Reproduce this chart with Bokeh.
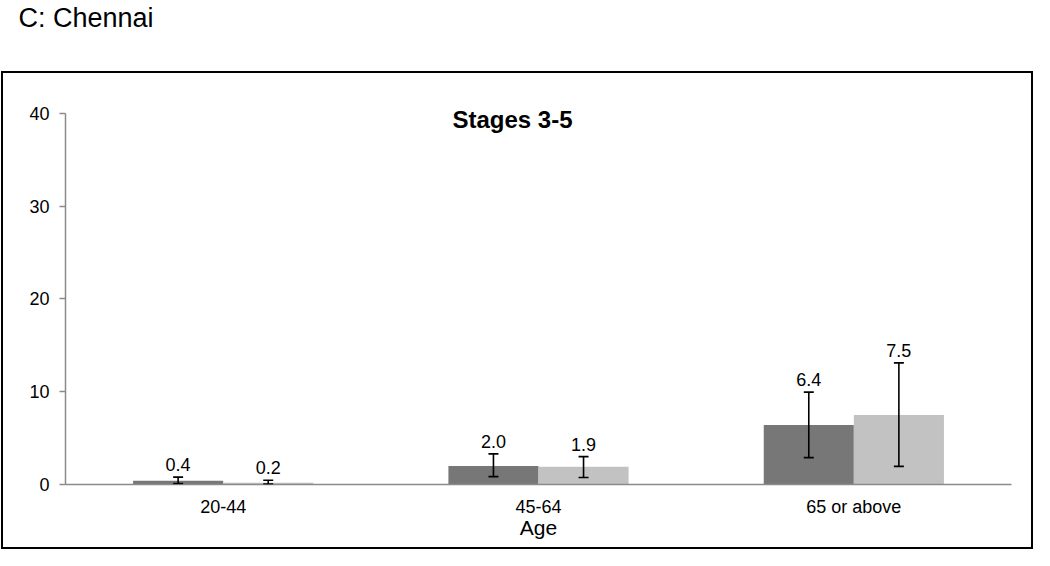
from bokeh.plotting import figure
from bokeh.models import (ColumnDataSource, FactorRange, Range1d, Whisker, TeeHead,
                          LabelSet, Label, FixedTicker, Title)
from bokeh.transform import dodge
from bokeh.core.properties import value
from bokeh.embed import file_html
from bokeh.resources import INLINE

# ---- data ----
categories = ["20-44", "45-64", "65 or above"]
series_a = [0.4, 2.0, 6.4]          # darker bars
series_b = [0.2, 1.9, 7.5]          # lighter bars
a_lower = [0.1, 0.85, 2.9]
a_upper = [0.8, 3.3, 9.95]
b_lower = [0.05, 0.75, 1.95]
b_upper = [0.45, 3.0, 13.1]
y_ticks = [0, 10, 20, 30, 40]
panel_title = "C: Chennai"
chart_title = "Stages 3-5"
x_label = "Age"

FONT = "Liberation Sans"
DARK = "#777777"
LIGHT = "#c2c2c2"
AXIS = "#8a8a8a"

W, H = 1034, 550
ML, MR, MT, MB = 65, 23, 97, 66

p = figure(width=W, height=H, x_range=FactorRange(*categories, range_padding=0),
           y_range=Range1d(0, 41.7), output_backend="svg", toolbar_location=None,
           min_border_left=ML, min_border_right=MR, min_border_top=MT, min_border_bottom=MB,
           title=panel_title)
p.outline_line_color = None
p.background_fill_color = None
p.border_fill_color = None
p.xgrid.visible = False
p.ygrid.visible = False

# panel title (outermost, at the top edge)
p.title.text_font = FONT
p.title.text_font_size = "27px"
p.title.text_font_style = "normal"
p.title.text_color = "black"
p.title.align = "left"
p.title.offset = 18 - ML
p.title.standoff = 0

# spacer between the panel title and the plot frame
p.add_layout(Title(text=" ", text_font=FONT, text_font_size="27px", standoff=33), "above")

# outer frame box drawn behind the (transparent) canvas
g = "linear-gradient(#000,#000)"
p.styles = {
    "background-image": ", ".join([g] * 4),
    "background-position": "1px 71px, 1px 71px, 1031px 71px, 1px 547px",
    "background-size": "2px 478px, 1032px 2px, 2px 478px, 1032px 2px",
    "background-repeat": "no-repeat",
}

src_a = ColumnDataSource(dict(x=categories, top=series_a, lo=a_lower, hi=a_upper,
                              txt=[f"{v:.1f}" for v in series_a]))
src_b = ColumnDataSource(dict(x=categories, top=series_b, lo=b_lower, hi=b_upper,
                              txt=[f"{v:.1f}" for v in series_b]))

BW = 0.2857
off = BW / 2
p.vbar(x=dodge("x", -off, range=p.x_range), top="top", width=BW, source=src_a,
       fill_color=DARK, line_color=None)
p.vbar(x=dodge("x", off, range=p.x_range), top="top", width=BW, source=src_b,
       fill_color=LIGHT, line_color=None)

for src, d in ((src_a, -off), (src_b, off)):
    w = Whisker(base=dodge("x", d, range=p.x_range), lower="lo", upper="hi", source=src,
                level="annotation", line_color="black", line_width=1.6,
                upper_head=TeeHead(size=10, line_color="black", line_width=1.6),
                lower_head=TeeHead(size=10, line_color="black", line_width=1.6))
    p.add_layout(w)
    lbl = LabelSet(x=dodge("x", d, range=p.x_range), y="hi", text="txt", source=src,
                   y_offset=6, text_align="center", text_baseline="bottom",
                   text_font=value(FONT), text_font_size="18px", text_color="black")
    p.add_layout(lbl)

# axes
p.yaxis.ticker = FixedTicker(ticks=y_ticks)
p.yaxis.bounds = (0, 40)
p.yaxis.axis_line_color = AXIS
p.yaxis.axis_line_width = 1.5
p.yaxis.major_tick_line_color = AXIS
p.yaxis.major_tick_line_width = 1.5
p.yaxis.major_tick_out = 6
p.yaxis.major_tick_in = 0
p.yaxis.minor_tick_line_color = None
p.yaxis.major_label_standoff = 10
p.yaxis.major_label_text_font = FONT
p.yaxis.major_label_text_font_size = "18px"
p.yaxis.major_label_text_color = "black"

p.xaxis.axis_line_color = AXIS
p.xaxis.axis_line_width = 1.5
p.xaxis.major_tick_line_color = None
p.xaxis.minor_tick_line_color = None
p.xaxis.major_label_standoff = 6
p.xaxis.major_label_text_font = FONT
p.xaxis.major_label_text_font_size = "18px"
p.xaxis.major_label_text_color = "black"
p.xaxis.axis_label = x_label
p.xaxis.axis_label_text_font = FONT
p.xaxis.axis_label_text_font_size = "21px"
p.xaxis.axis_label_text_font_style = "normal"
p.xaxis.axis_label_text_color = "black"
p.xaxis.axis_label_standoff = -4

p.add_layout(Label(x=512 - ML, y=(H - MB) - 119, x_units="screen", y_units="screen",
                   text=chart_title, text_font=FONT, text_font_size="24px", text_font_style="bold",
                   text_color="black", text_baseline="alphabetic", text_align="center"))

open("out.html", "w").write(file_html(p, INLINE))
